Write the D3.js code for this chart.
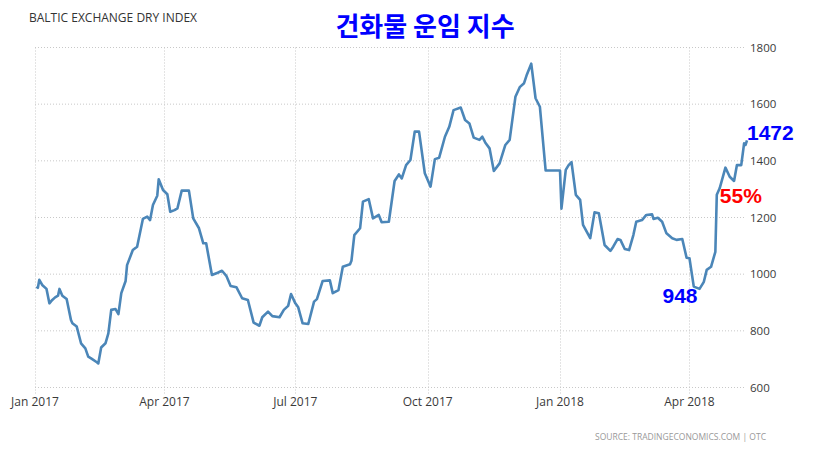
<!DOCTYPE html>
<html>
<head>
<meta charset="utf-8">
<script src="https://cdn.jsdelivr.net/npm/d3@7"></script>
<style>
body { margin: 0; background: #fff; }
.label { font-family: "Open Sans", "DejaVu Sans", sans-serif; fill: #3a3a3a; }
</style>
</head>
<body>
<div id="chart"></div>
<script>
let width = 835,
height = 452;

// BDI values
let dates = ["2017-01-02","2017-01-03","2017-01-04","2017-01-06","2017-01-09","2017-01-11","2017-01-13","2017-01-15","2017-01-17","2017-01-18",
"2017-01-20","2017-01-23","2017-01-26","2017-01-27","2017-01-30","2017-02-02","2017-02-05","2017-02-07","2017-02-09","2017-02-13",
"2017-02-14","2017-02-16","2017-02-19","2017-02-21","2017-02-23","2017-02-26","2017-02-28","2017-03-02","2017-03-05","2017-03-06",
"2017-03-10","2017-03-13","2017-03-17","2017-03-20","2017-03-22","2017-03-24","2017-03-27","2017-03-28","2017-03-31","2017-04-03",
"2017-04-05","2017-04-08","2017-04-10","2017-04-13","2017-04-18","2017-04-21","2017-04-25","2017-04-28","2017-04-30","2017-05-04",
"2017-05-08","2017-05-11","2017-05-14","2017-05-17","2017-05-21","2017-05-25","2017-05-29","2017-06-02","2017-06-06","2017-06-08",
"2017-06-12","2017-06-15","2017-06-20","2017-06-23","2017-06-26","2017-06-28","2017-07-01","2017-07-03","2017-07-06","2017-07-10",
"2017-07-14","2017-07-16","2017-07-20","2017-07-25","2017-07-27","2017-07-31","2017-08-03","2017-08-08","2017-08-09","2017-08-11",
"2017-08-15","2017-08-17","2017-08-21","2017-08-24","2017-08-28","2017-08-30","2017-09-04","2017-09-08","2017-09-11","2017-09-13",
"2017-09-16","2017-09-19","2017-09-22","2017-09-25","2017-09-29","2017-10-03","2017-10-06","2017-10-09","2017-10-13","2017-10-16",
"2017-10-19","2017-10-24","2017-10-27","2017-10-30","2017-11-02","2017-11-06","2017-11-08","2017-11-10","2017-11-13","2017-11-16",
"2017-11-20","2017-11-24","2017-11-27","2017-12-01","2017-12-04","2017-12-07","2017-12-09","2017-12-12","2017-12-15","2017-12-18",
"2017-12-22","2018-01-01","2018-01-02","2018-01-05","2018-01-07","2018-01-09","2018-01-12","2018-01-15","2018-01-17","2018-01-22",
"2018-01-25","2018-01-28","2018-02-01","2018-02-05","2018-02-07","2018-02-10","2018-02-12","2018-02-15","2018-02-18","2018-02-21",
"2018-02-23","2018-02-27","2018-03-02","2018-03-06","2018-03-07","2018-03-10","2018-03-13","2018-03-16","2018-03-20","2018-03-23",
"2018-03-27","2018-03-30","2018-04-01","2018-04-04","2018-04-08","2018-04-11","2018-04-13","2018-04-16","2018-04-19","2018-04-20",
"2018-04-22","2018-04-26","2018-04-29","2018-05-02","2018-05-04","2018-05-07","2018-05-09","2018-05-10","2018-05-11"];

let values = [956,952,980,962,948,897,909,918,924,948,
924,912,838,827,815,756,738,709,703,689,
685,741,756,791,874,877,859,933,976,1032,
1085,1097,1195,1203,1191,1244,1277,1335,1297,1282,
1220,1226,1232,1295,1295,1197,1162,1109,1109,997,
1005,1012,994,958,954,915,909,829,818,848,
868,852,848,874,888,930,897,883,827,824,
903,912,976,978,933,944,1026,1035,1047,1138,
1162,1256,1265,1197,1209,1183,1185,1329,1352,1338,
1385,1403,1503,1503,1356,1309,1406,1411,1485,1520,
1579,1588,1544,1532,1482,1474,1485,1465,1444,1364,
1391,1456,1474,1626,1660,1674,1705,1743,1621,1591,
1366,1366,1231,1368,1385,1395,1280,1262,1174,1127,
1218,1215,1103,1082,1097,1124,1121,1089,1085,1138,
1185,1191,1209,1211,1195,1199,1185,1144,1127,1121,
1124,1058,1056,956,948,973,1015,1026,1079,1280,
1303,1376,1344,1329,1385,1385,1462,1456,1472];

let yTicks = [600, 800, 1000, 1200, 1400, 1600, 1800];
let xTicks = ["2017-01-01","2017-04-01","2017-07-01","2017-10-01","2018-01-01","2018-04-01"];

let title = "BALTIC EXCHANGE DRY INDEX";
let koTitle = "건화물 운임 지수";
let source = "SOURCE: TRADINGECONOMICS.COM | OTC";
let notes = [
    {text: "1472", date: "2018-05-11", value: 1472, color: "#0000ff", dx: 0, dy: -0.5},
    {text: "55%", date: "2018-04-20", value: 1250, color: "#ff0000", dx: 3, dy: 0},
    {text: "948", date: "2018-04-08", value: 948, color: "#0000ff", dx: -2, dy: 14}
];

let parse = d3.timeParse("%Y-%m-%d");
let data = dates.map((d, i) => ({ date: parse(d), value: values[i] }));

let svg = d3.select("#chart")
.append("svg")
.attr("width", width)
.attr("height", height);

let x = d3.scaleTime()
.domain([parse("2017-01-01"), data[data.length - 1].date])
.range([35, 747]);

let y = d3.scaleLinear()
.domain([600, 1800])
.range([387.5, 47.5]);

let grid = svg.append("g");

grid.selectAll(".hgrid")
.data(yTicks)
.enter().append("line")
.attr("x1", 35)
.attr("x2", 745)
.attr("y1", d => y(d))
.attr("y2", d => y(d))
.attr("stroke", "#c8c8c8")
.attr("stroke-width", 1)
.attr("stroke-dasharray", "1 2");

grid.selectAll(".vgrid")
.data(xTicks)
.enter().append("line")
.attr("x1", d => Math.round(x(parse(d))) + 0.5)
.attr("x2", d => Math.round(x(parse(d))) + 0.5)
.attr("y1", y(1800))
.attr("y2", y(600) + 6)
.attr("stroke", "#c8c8c8")
.attr("stroke-width", 1)
.attr("stroke-dasharray", "1 2");

svg.append("g").selectAll("text")
.data(yTicks)
.enter().append("text")
.attr("class", "label")
.attr("x", 750)
.attr("y", d => y(d) + 4)
.style("font-size", "11.5px")
.text(d => d);

svg.append("g").selectAll("text")
.data(xTicks)
.enter().append("text")
.attr("class", "label")
.attr("x", d => x(parse(d)))
.attr("y", 406)
.attr("text-anchor", "middle")
.style("font-size", "12px")
.text(d => d3.timeFormat("%b %Y")(parse(d)));

let line = d3.line()
.x(d => x(d.date))
.y(d => y(d.value))
.curve(d3.curveLinear);

svg.append("path")
.datum(data)
.attr("d", line)
.attr("fill", "none")
.attr("stroke", "#4b86b8")
.attr("stroke-width", 2.6)
.attr("stroke-linejoin", "round");

svg.append("text")
.attr("class", "label")
.attr("x", 29)
.attr("y", 22)
.style("font-size", "12px")
.style("fill", "#333")
.text(title);

svg.append("text")
.attr("x", 425)
.attr("y", 36)
.attr("text-anchor", "middle")
.style("font-family", "'Noto Sans CJK KR', sans-serif")
.style("font-weight", "bold")
.style("font-size", "26px")
.style("fill", "#0000ff")
.text(koTitle);

svg.append("text")
.attr("class", "label")
.attr("x", 766)
.attr("y", 440)
.attr("text-anchor", "end")
.style("font-size", "8.5px")
.style("fill", "#999")
.text(source);

svg.append("g").selectAll("text")
.data(notes)
.enter().append("text")
.attr("x", d => x(parse(d.date)) + d.dx)
.attr("y", d => y(d.value) + d.dy)
.attr("text-anchor", d => d.text == "948" ? "end" : "start")
.style("font-family", "'Liberation Sans', Arial, sans-serif")
.style("font-weight", "bold")
.style("font-size", "21px")
.style("fill", d => d.color)
.text(d => d.text);
</script>
</body>
</html>
